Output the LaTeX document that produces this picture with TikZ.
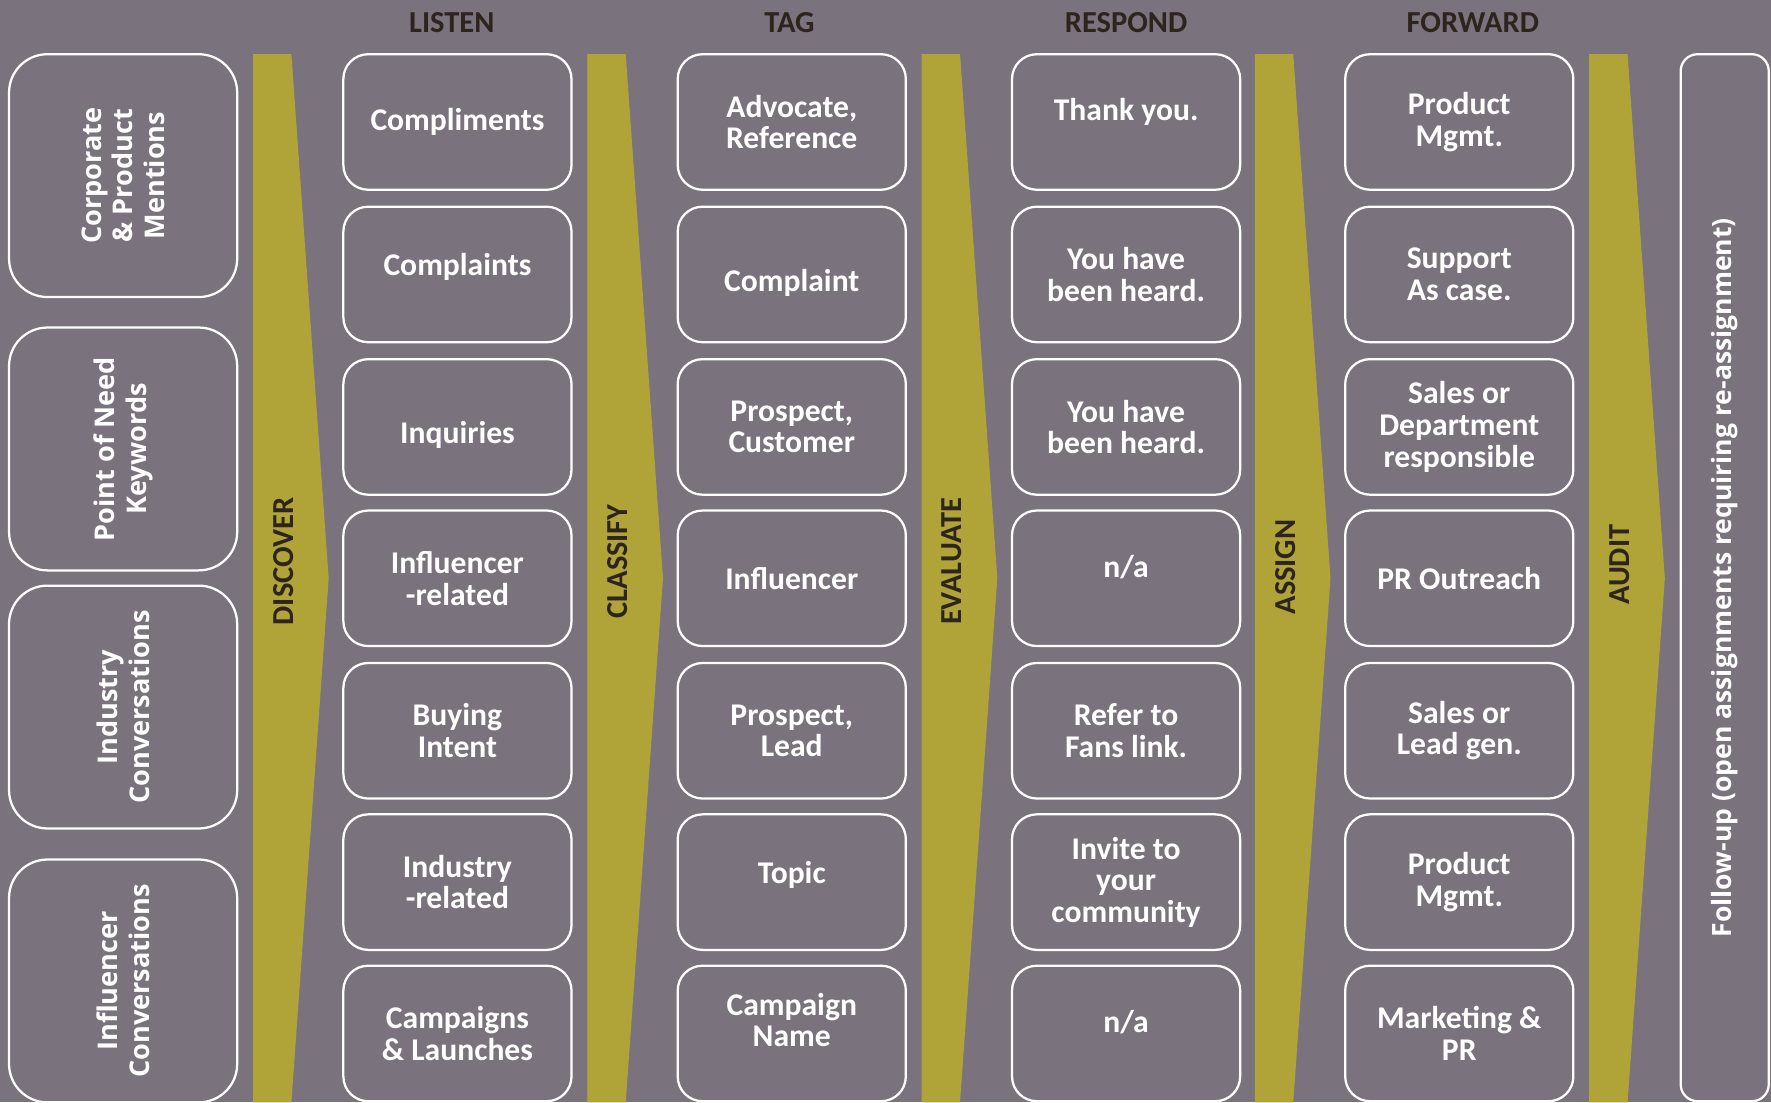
\documentclass[tikz,border=0pt]{standalone}
\usepackage{fontspec}
\setmainfont{Carlito}
\newfontfamily\sidefont{Open Sans}
\definecolor{bgcol}{RGB}{122,114,124}
\definecolor{olivebar}{RGB}{176,164,56}
\definecolor{darktxt}{RGB}{46,36,30}
\tikzset{
  cell/.style={draw=white,line width=2pt,rounded corners=22pt,minimum width=202pt,
    minimum height=120pt,text=white,align=center,inner sep=2pt,
    font=\fontsize{28}{28}\selectfont\bfseries},
  source/.style={draw=white,line width=2pt,rounded corners=34pt,rotate=90,
    minimum width=215pt,minimum height=202pt,text=white,align=center,
    font=\sidefont\fontsize{24}{28}\selectfont\bfseries},
  head/.style={text=darktxt,font=\fontsize{27}{28}\selectfont\bfseries},
  stage/.style={text=darktxt,rotate=90,font=\fontsize{27}{28}\selectfont\bfseries}
}
\begin{document}
\begin{tikzpicture}[x=1pt,y=-1pt]
 \fill[bgcol] (0,0) rectangle (1568,976);
 \useasboundingbox (0,0) rectangle (1568,976);
 % column heads
 \node[head] (hlisten) at (400,20) {LISTEN};
 \node[head] (htag) at (699,20) {TAG};
 \node[head] (hrespond) at (997,20) {RESPOND};
 \node[head] (hforward) at (1304,20) {FORWARD};
 % stage bars
 \fill[olivebar] (224,48)--(258,48)--(291,512)--(258,976)--(224,976)--cycle;
 \fill[olivebar] (520,48)--(554,48)--(587,512)--(554,976)--(520,976)--cycle;
 \fill[olivebar] (816,48)--(850,48)--(883,512)--(850,976)--(816,976)--cycle;
 \fill[olivebar] (1111,48)--(1145,48)--(1178,512)--(1145,976)--(1111,976)--cycle;
 \fill[olivebar] (1407,48)--(1441,48)--(1474,512)--(1441,976)--(1407,976)--cycle;
 \node[stage] (discover) at (251,497) {DISCOVER};
 \node[stage] (classify) at (547,497) {CLASSIFY};
 \node[stage] (evaluate) at (843,497) {EVALUATE};
 \node[stage] (assign) at (1138,502) {ASSIGN};
 \node[stage] (audit) at (1434,500) {AUDIT};
 % sources
 \node[source] (s1) at (109,155.5) {Corporate\\ \& Product\\ Mentions};
 \node[source] (s2) at (109,397.5) {Point of Need\\ Keywords};
 \node[source] (s3) at (109,626) {Industry\\ Conversations};
 \node[source] (s4) at (109,868.5) {Influencer\\ Conversations};
 % listen
 \node[cell] (l1) at (405,108) {Compliments};
 \node[cell,text depth=18pt] (l2) at (405,243) {Complaints};
 \node[cell,text height=33pt] (l3) at (405,378) {Inquiries};
 \node[cell] (l4) at (405,512) {Influencer\\-related};
 \node[cell] (l5) at (405,647) {Buying\\Intent};
 \node[cell] (l6) at (405,781) {Industry\\-related};
 \node[cell] (l7) at (405,915) {Campaigns\\\& Launches};
 % tag
 \node[cell] (t1) at (701,108) {Advocate,\\Reference};
 \node[cell,text height=34pt] (t2) at (701,243) {Complaint};
 \node[cell] (t3) at (701,378) {Prospect,\\Customer};
 \node[cell] (t4) at (701,512) {Influencer};
 \node[cell] (t5) at (701,647) {Prospect,\\Lead};
 \node[cell,text depth=18pt] (t6) at (701,781) {Topic};
 \node[cell,text depth=24pt] (t7) at (701,915) {Campaign\\Name};
 % respond
 \node[cell,text depth=22pt] (r1) at (997,108) {Thank you.};
 \node[cell] (r2) at (997,243) {You have\\been heard.};
 \node[cell] (r3) at (997,378) {You have\\been heard.};
 \node[cell,text depth=21pt] (r4) at (997,512) {n/a};
 \node[cell] (r5) at (997,647) {Refer to\\Fans link.};
 \node[cell] (r6) at (997,781) {Invite to\\your\\community};
 \node[cell,text depth=21pt] (r7) at (997,915) {n/a};
 % forward
 \node[cell] (f1) at (1292,108) {Product\\Mgmt.};
 \node[cell] (f2) at (1292,243) {Support\\As case.};
 \node[cell] (f3) at (1292,378) {Sales or\\Department\\responsible};
 \node[cell] (f4) at (1292,512) {PR Outreach};
 \node[cell] (f5) at (1292,647) {Sales or\\Lead gen.};
 \node[cell] (f6) at (1292,781) {Product\\Mgmt.};
 \node[cell] (f7) at (1292,915) {Marketing \&\\PR};
 % follow-up
 \node[source,rounded corners=15pt,minimum width=927pt,minimum height=78pt,
   font=\sidefont\fontsize{23.5}{26}\selectfont\bfseries] (follow) at (1527,511.5)
   {Follow-up (open assignments requiring re-assignment)};
\end{tikzpicture}
\end{document}
